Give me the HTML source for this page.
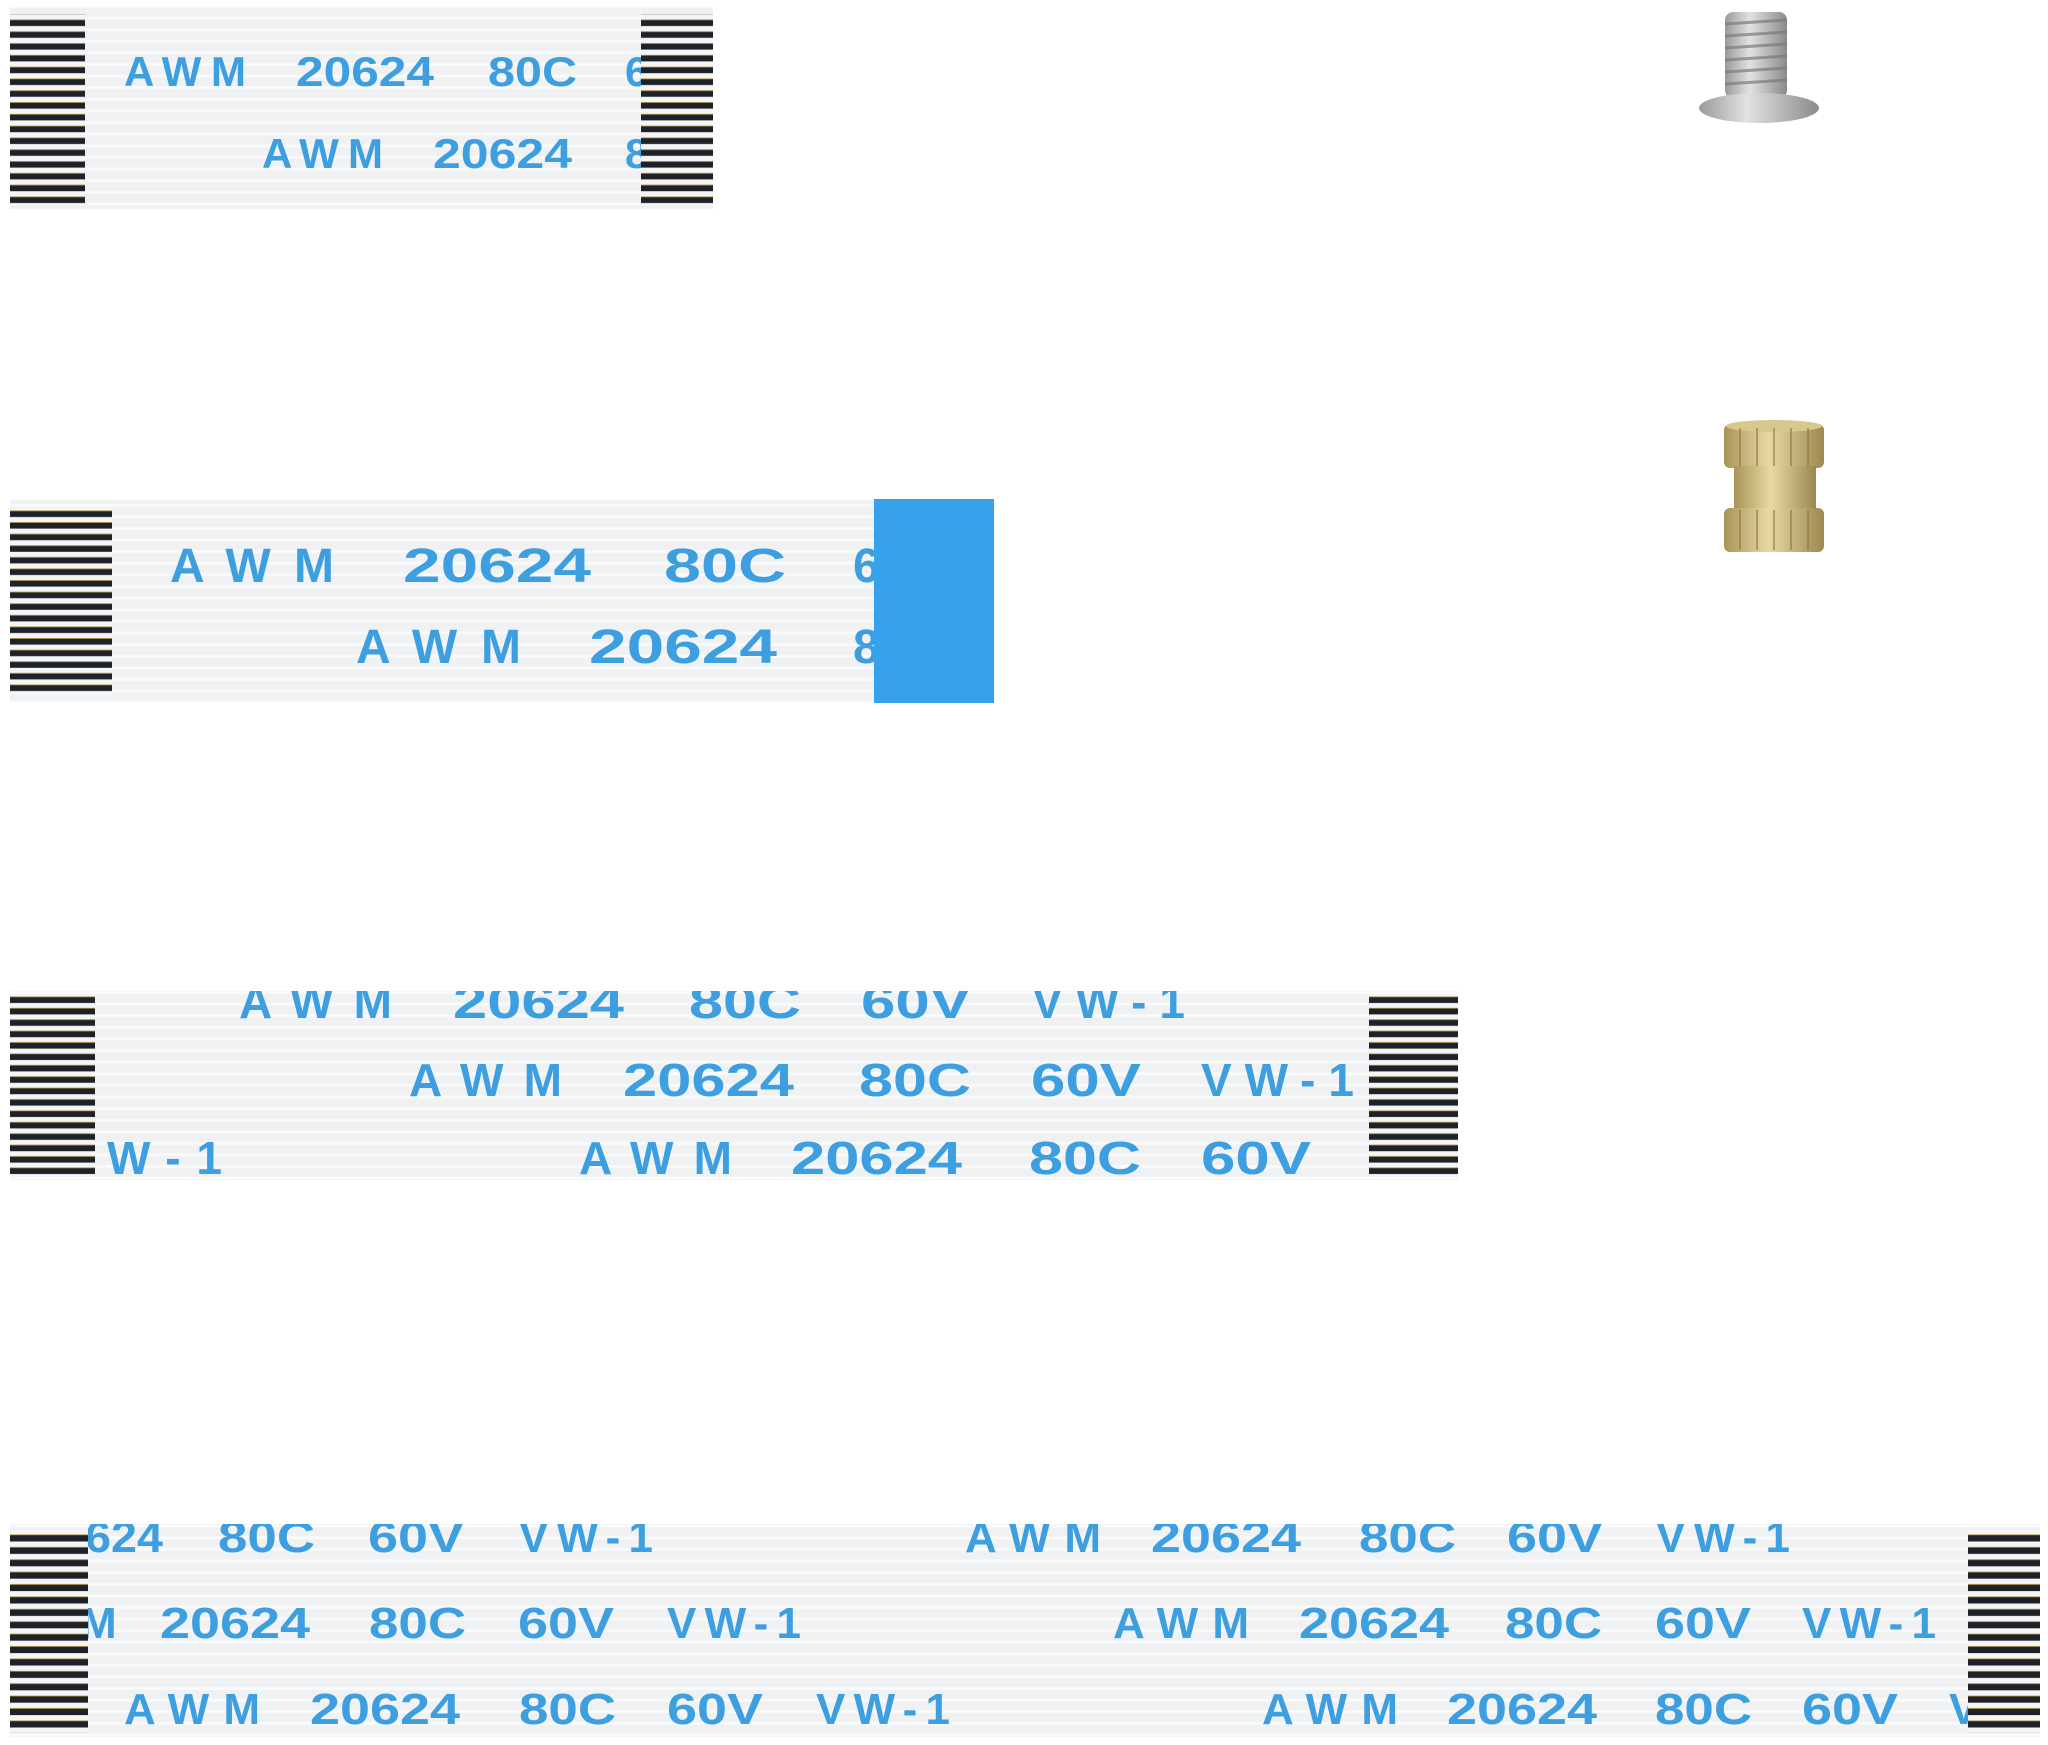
<!DOCTYPE html>
<html><head><meta charset="utf-8"><style>
html,body{margin:0;padding:0;background:#fff;}
svg{display:block;}
text{font-family:"Liberation Sans",sans-serif;font-weight:bold;fill:#3d9fe0;}
</style></head><body>
<svg width="2048" height="1745" viewBox="0 0 2048 1745" xmlns="http://www.w3.org/2000/svg">
<defs>
<pattern id="p1" patternUnits="userSpaceOnUse" x="0" y="17" width="10" height="11.8"><rect width="10" height="11.8" fill="#f4f5f6"/><rect y="3" width="10" height="6" fill="#1e2228"/><rect y="2.4" width="10" height="0.8" fill="#b89a50"/></pattern>
<pattern id="p2" patternUnits="userSpaceOnUse" x="0" y="508" width="10" height="11.6"><rect width="10" height="11.6" fill="#f4f5f6"/><rect y="3" width="10" height="6" fill="#1e2228"/><rect y="2.4" width="10" height="0.8" fill="#b89a50"/></pattern>
<pattern id="p3" patternUnits="userSpaceOnUse" x="0" y="994" width="10" height="11.4"><rect width="10" height="11.4" fill="#f4f5f6"/><rect y="3" width="10" height="6" fill="#1e2228"/><rect y="2.4" width="10" height="0.8" fill="#b89a50"/></pattern>
<pattern id="p4" patternUnits="userSpaceOnUse" x="0" y="1532" width="10" height="12.4"><rect width="10" height="12.4" fill="#f4f5f6"/><rect y="3" width="10" height="6.5" fill="#1e2228"/><rect y="2.4" width="10" height="0.8" fill="#b89a50"/></pattern>
<pattern id="b" patternUnits="userSpaceOnUse" width="10" height="11.6"><rect width="10" height="11.6" fill="#eff1f2"/><rect y="5" width="10" height="3" fill="#f9fafb"/></pattern>
<clipPath id="c1"><rect x="10" y="7" width="703" height="202"/></clipPath>
<clipPath id="c2"><rect x="10" y="500" width="984" height="202"/></clipPath>
<clipPath id="c3"><rect x="10" y="991" width="1448" height="189"/></clipPath>
<clipPath id="c4"><rect x="10" y="1524" width="2030" height="213"/></clipPath>
<linearGradient id="scr" x1="0" x2="1"><stop offset="0" stop-color="#9a9a9a"/><stop offset=".4" stop-color="#e2e2e2"/><stop offset="1" stop-color="#8a8a8a"/></linearGradient>
<linearGradient id="brs" x1="0" x2="1"><stop offset="0" stop-color="#a89458"/><stop offset=".45" stop-color="#e8d9a4"/><stop offset="1" stop-color="#9c8850"/></linearGradient>
</defs>

<!-- Cable 1 -->
<rect x="10" y="7" width="703" height="202" fill="url(#b)"/>
<g clip-path="url(#c1)">
<text x="124" y="86" font-size="42" textLength="122">AWM</text>
<text x="296" y="86" font-size="42" textLength="138" lengthAdjust="spacingAndGlyphs" font-weight="normal">20624</text>
<text x="488" y="86" font-size="42" textLength="89" lengthAdjust="spacingAndGlyphs" font-weight="normal">80C</text>
<text x="625" y="86" font-size="42" font-weight="normal">6</text>
<text x="262" y="168" font-size="42" textLength="121">AWM</text>
<text x="433" y="168" font-size="42" textLength="139" lengthAdjust="spacingAndGlyphs" font-weight="normal">20624</text>
<text x="625" y="168" font-size="42" font-weight="normal">8</text>
</g>
<rect x="10" y="14" width="75" height="190" fill="url(#p1)"/>
<rect x="641" y="14" width="72" height="190" fill="url(#p1)"/>

<!-- Cable 2 -->
<rect x="10" y="500" width="984" height="202" fill="url(#b)"/>
<g clip-path="url(#c2)">
<text x="170" y="582" font-size="48" textLength="164">AWM</text>
<text x="403" y="582" font-size="48" textLength="188" lengthAdjust="spacingAndGlyphs" font-weight="normal">20624</text>
<text x="664" y="582" font-size="48" textLength="122" lengthAdjust="spacingAndGlyphs" font-weight="normal">80C</text>
<text x="853" y="582" font-size="48" font-weight="normal">6</text>
<text x="356" y="663" font-size="48" textLength="165">AWM</text>
<text x="589" y="663" font-size="48" textLength="188" lengthAdjust="spacingAndGlyphs" font-weight="normal">20624</text>
<text x="853" y="663" font-size="48" font-weight="normal">8</text>
</g>
<rect x="10" y="508" width="102" height="187" fill="url(#p2)"/>
<rect x="874" y="499" width="120" height="204" fill="#36a2ec"/>

<!-- Cable 3 -->
<rect x="10" y="991" width="1448" height="189" fill="url(#b)"/>
<g clip-path="url(#c3)" lengthAdjust="spacingAndGlyphs">
<text x="239" y="1018" font-size="46" textLength="153">AWM</text>
<text x="453" y="1018" font-size="46" textLength="171" lengthAdjust="spacingAndGlyphs">20624</text>
<text x="689" y="1018" font-size="46" textLength="112" lengthAdjust="spacingAndGlyphs">80C</text>
<text x="861" y="1018" font-size="46" textLength="110" lengthAdjust="spacingAndGlyphs">60V</text>
<text x="1032" y="1018" font-size="46" textLength="153">VW-1</text>
<text x="409" y="1096" font-size="46" textLength="153">AWM</text>
<text x="623" y="1096" font-size="46" textLength="171" lengthAdjust="spacingAndGlyphs">20624</text>
<text x="859" y="1096" font-size="46" textLength="112" lengthAdjust="spacingAndGlyphs">80C</text>
<text x="1031" y="1096" font-size="46" textLength="110" lengthAdjust="spacingAndGlyphs">60V</text>
<text x="1201" y="1096" font-size="46" textLength="153">VW-1</text>
<text x="107" y="1174" font-size="46" textLength="115">W-1</text>
<text x="579" y="1174" font-size="46" textLength="153">AWM</text>
<text x="791" y="1174" font-size="46" textLength="171" lengthAdjust="spacingAndGlyphs">20624</text>
<text x="1029" y="1174" font-size="46" textLength="112" lengthAdjust="spacingAndGlyphs">80C</text>
<text x="1201" y="1174" font-size="46" textLength="110" lengthAdjust="spacingAndGlyphs">60V</text>
</g>
<rect x="10" y="994" width="85" height="182" fill="url(#p3)"/>
<rect x="1369" y="994" width="89" height="182" fill="url(#p3)"/>

<!-- Cable 4 -->
<rect x="10" y="1524" width="2030" height="213" fill="url(#b)"/>
<g clip-path="url(#c4)">
<text x="85" y="1552" font-size="44" textLength="78" lengthAdjust="spacingAndGlyphs">624</text>
<text x="218" y="1552" font-size="44" textLength="97" lengthAdjust="spacingAndGlyphs">80C</text>
<text x="368" y="1552" font-size="44" textLength="96" lengthAdjust="spacingAndGlyphs">60V</text>
<text x="519" y="1552" font-size="44" textLength="134">VW-1</text>
<text x="965" y="1552" font-size="44" textLength="136">AWM</text>
<text x="1151" y="1552" font-size="44" textLength="150" lengthAdjust="spacingAndGlyphs">20624</text>
<text x="1359" y="1552" font-size="44" textLength="97" lengthAdjust="spacingAndGlyphs">80C</text>
<text x="1507" y="1552" font-size="44" textLength="96" lengthAdjust="spacingAndGlyphs">60V</text>
<text x="1656" y="1552" font-size="44" textLength="134">VW-1</text>
<text x="80" y="1638" font-size="44">M</text>
<text x="160" y="1638" font-size="44" textLength="150" lengthAdjust="spacingAndGlyphs">20624</text>
<text x="369" y="1638" font-size="44" textLength="97" lengthAdjust="spacingAndGlyphs">80C</text>
<text x="518" y="1638" font-size="44" textLength="96" lengthAdjust="spacingAndGlyphs">60V</text>
<text x="667" y="1638" font-size="44" textLength="134">VW-1</text>
<text x="1113" y="1638" font-size="44" textLength="136">AWM</text>
<text x="1299" y="1638" font-size="44" textLength="150" lengthAdjust="spacingAndGlyphs">20624</text>
<text x="1505" y="1638" font-size="44" textLength="97" lengthAdjust="spacingAndGlyphs">80C</text>
<text x="1655" y="1638" font-size="44" textLength="96" lengthAdjust="spacingAndGlyphs">60V</text>
<text x="1802" y="1638" font-size="44" textLength="134">VW-1</text>
<text x="124" y="1724" font-size="44" textLength="136">AWM</text>
<text x="310" y="1724" font-size="44" textLength="150" lengthAdjust="spacingAndGlyphs">20624</text>
<text x="519" y="1724" font-size="44" textLength="97" lengthAdjust="spacingAndGlyphs">80C</text>
<text x="667" y="1724" font-size="44" textLength="96" lengthAdjust="spacingAndGlyphs">60V</text>
<text x="816" y="1724" font-size="44" textLength="134">VW-1</text>
<text x="1262" y="1724" font-size="44" textLength="136">AWM</text>
<text x="1447" y="1724" font-size="44" textLength="150" lengthAdjust="spacingAndGlyphs">20624</text>
<text x="1655" y="1724" font-size="44" textLength="97" lengthAdjust="spacingAndGlyphs">80C</text>
<text x="1802" y="1724" font-size="44" textLength="96" lengthAdjust="spacingAndGlyphs">60V</text>
<text x="1949" y="1724" font-size="44">V</text>
</g>
<rect x="10" y="1530" width="78" height="203" fill="url(#p4)"/>
<rect x="1968" y="1530" width="72" height="203" fill="url(#p4)"/>

<!-- Screw -->
<rect x="1725" y="12" width="62" height="86" rx="8" fill="url(#scr)"/>
<g stroke="#7c7c7c" stroke-width="3" opacity=".7">
<line x1="1725" y1="24" x2="1787" y2="20"/><line x1="1725" y1="36" x2="1787" y2="32"/><line x1="1725" y1="48" x2="1787" y2="44"/><line x1="1725" y1="60" x2="1787" y2="56"/><line x1="1725" y1="72" x2="1787" y2="68"/><line x1="1725" y1="84" x2="1787" y2="80"/>
</g>
<ellipse cx="1759" cy="108" rx="60" ry="15" fill="url(#scr)"/>

<!-- Brass insert -->
<rect x="1724" y="424" width="100" height="44" rx="6" fill="url(#brs)"/>
<rect x="1734" y="466" width="82" height="44" fill="url(#brs)"/>
<rect x="1724" y="508" width="100" height="44" rx="6" fill="url(#brs)"/>
<ellipse cx="1774" cy="426" rx="48" ry="6" fill="#d8c88e"/>
<g stroke="#8c7a44" stroke-width="2" opacity=".6">
<line x1="1740" y1="428" x2="1740" y2="466"/><line x1="1757" y1="428" x2="1757" y2="466"/><line x1="1774" y1="428" x2="1774" y2="466"/><line x1="1791" y1="428" x2="1791" y2="466"/><line x1="1808" y1="428" x2="1808" y2="466"/>
<line x1="1740" y1="510" x2="1740" y2="550"/><line x1="1757" y1="510" x2="1757" y2="550"/><line x1="1774" y1="510" x2="1774" y2="550"/><line x1="1791" y1="510" x2="1791" y2="550"/><line x1="1808" y1="510" x2="1808" y2="550"/>
</g>
</svg>
</body></html>
